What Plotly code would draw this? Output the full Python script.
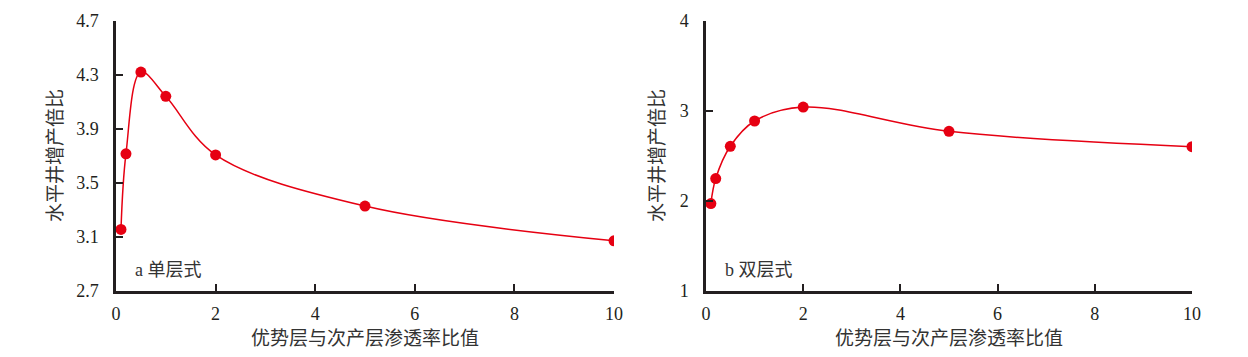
import plotly.graph_objects as go

# Data
x_vals = [0.1, 0.2, 0.5, 1, 2, 5, 10]
y_single = [3.156, 3.716, 4.322, 4.142, 3.708, 3.329, 3.072]
y_double = [1.971, 2.249, 2.608, 2.889, 3.044, 2.774, 2.604]

x_ticks = [0, 2, 4, 6, 8, 10]
y_ticks_a = [2.7, 3.1, 3.5, 3.9, 4.3, 4.7]
y_ticks_b = [1, 2, 3, 4]

panel_labels = ["a 单层式", "b 双层式"]
x_title = "优势层与次产层渗透率比值"
y_title = "水平井增产倍比"

RED = "#e60012"
INK = "#231f20"
FONT = "Liberation Serif, Noto Sans CJK SC, serif"

W, H = 1248, 357

def px_x(p):
    return p / W

def px_y(p):
    return 1 - p / H

fig = go.Figure()
fig.add_trace(go.Scatter(x=x_vals, y=y_single, mode="lines+markers",
                         line=dict(color=RED, width=1.5, shape="spline", smoothing=1.0),
                         marker=dict(color=RED, size=11),
                         xaxis="x", yaxis="y", showlegend=False))
fig.add_trace(go.Scatter(x=x_vals, y=y_double, mode="lines+markers",
                         line=dict(color=RED, width=1.5, shape="spline", smoothing=1.0),
                         marker=dict(color=RED, size=11),
                         xaxis="x2", yaxis="y2", showlegend=False))

axis_common = dict(showline=True, linecolor=INK, linewidth=2.5, ticks="inside",
                   ticklen=7, tickwidth=2, tickcolor=INK, showgrid=False, zeroline=False,
                   tickfont=dict(family=FONT, size=18, color=INK), mirror=False,
                   automargin=False)

fig.update_layout(
    width=W, height=H,
    margin=dict(l=0, r=0, t=0, b=0),
    paper_bgcolor="white", plot_bgcolor="white",
    xaxis=dict(domain=[px_x(116), px_x(614)], range=[0, 10], tickvals=x_ticks,
               anchor="y", ticklabelstandoff=5, **axis_common),
    yaxis=dict(domain=[px_y(291), px_y(21)], range=[2.7, 4.7], tickvals=y_ticks_a,
               ticktext=[f"{v:.1f}" for v in y_ticks_a], anchor="x",
               ticklabelstandoff=11, **axis_common),
    xaxis2=dict(domain=[px_x(706), px_x(1192)], range=[0, 10], tickvals=x_ticks,
                anchor="y2", ticklabelstandoff=5, **axis_common),
    yaxis2=dict(domain=[px_y(291), px_y(21)], range=[1, 4], tickvals=y_ticks_b,
                anchor="x2", ticklabelstandoff=11, **axis_common),
)

ann = []
for cx, lab in [(365, x_title), (949, x_title)]:
    ann.append(dict(x=px_x(cx), y=px_y(338), xref="paper", yref="paper", text=lab,
                    showarrow=False, xanchor="center", yanchor="middle",
                    font=dict(family=FONT, size=19, color="#333333")))
for cx, lab in [(55, y_title), (657, y_title)]:
    ann.append(dict(x=px_x(cx), y=px_y(156), xref="paper", yref="paper", text=lab,
                    showarrow=False, xanchor="center", yanchor="middle", textangle=-90,
                    font=dict(family=FONT, size=19, color="#333333")))
for lx, lab in [(133, panel_labels[0]), (723, panel_labels[1])]:
    ann.append(dict(x=px_x(lx), y=px_y(270), xref="paper", yref="paper", text=lab,
                    showarrow=False, xanchor="left", yanchor="middle",
                    font=dict(family=FONT, size=18, color="#333333")))
fig.update_layout(annotations=ann)

fig.write_html("out.html", config={"displayModeBar": False},
               post_script="document.body.style.margin='0';document.body.style.padding='0';"
                           "document.body.style.overflow='hidden';")
